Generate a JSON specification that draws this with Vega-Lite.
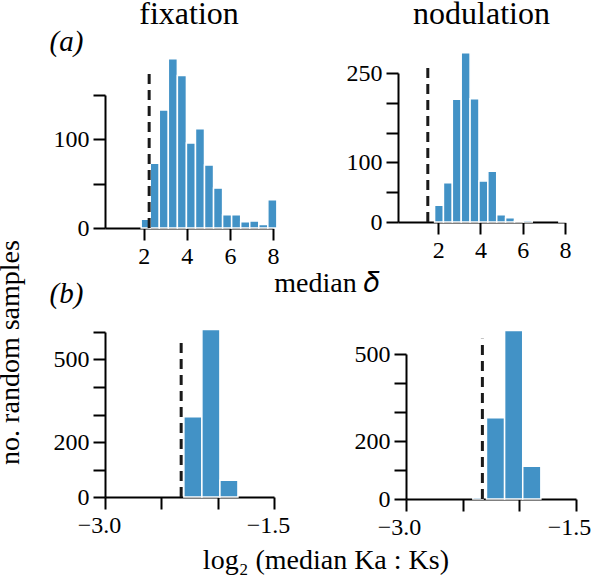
{
  "$schema": "https://vega.github.io/schema/vega-lite/v6.json",
  "background": "white",
  "padding": {"left": -3, "top": -3, "right": 0, "bottom": 2},
  "config": {
    "font": "Liberation Serif",
    "view": {"stroke": null},
    "axis": {
      "grid": false,
      "domainColor": "black",
      "domainWidth": 2,
      "tickColor": "black",
      "tickWidth": 2,
      "tickSize": 12,
      "labelFont": "Liberation Serif",
      "labelFontSize": 24,
      "labelColor": "black",
      "labelPadding": 4,
      "labelOverlap": false,
      "labelFlush": false,
      "titleFont": "Liberation Serif",
      "titleColor": "black",
      "titleFontWeight": "normal"
    },
    "title": {"font": "Liberation Serif", "fontWeight": "normal", "color": "black"},
    "bar": {"color": "#4292c6", "stroke": "white", "strokeWidth": 1.5},
    "rule": {"color": "#1a1a1a", "strokeWidth": 3, "strokeDash": [10, 6]}
  },
  "datasets": {
    "fixA": [
      {"x0": 1.88, "x1": 2.30, "n": 10},
      {"x0": 2.30, "x1": 2.72, "n": 73},
      {"x0": 2.72, "x1": 3.14, "n": 133},
      {"x0": 3.14, "x1": 3.56, "n": 191},
      {"x0": 3.56, "x1": 3.98, "n": 172},
      {"x0": 3.98, "x1": 4.40, "n": 96},
      {"x0": 4.40, "x1": 4.82, "n": 112},
      {"x0": 4.82, "x1": 5.24, "n": 71},
      {"x0": 5.24, "x1": 5.66, "n": 45},
      {"x0": 5.66, "x1": 6.08, "n": 15},
      {"x0": 6.08, "x1": 6.50, "n": 15},
      {"x0": 6.50, "x1": 6.92, "n": 7},
      {"x0": 6.92, "x1": 7.34, "n": 8},
      {"x0": 7.34, "x1": 7.76, "n": 4},
      {"x0": 7.76, "x1": 8.18, "n": 32}
    ],
    "nodA": [
      {"x0": 1.83, "x1": 2.25, "n": 28},
      {"x0": 2.25, "x1": 2.67, "n": 66},
      {"x0": 2.67, "x1": 3.09, "n": 206},
      {"x0": 3.09, "x1": 3.51, "n": 284},
      {"x0": 3.51, "x1": 3.93, "n": 207},
      {"x0": 3.93, "x1": 4.35, "n": 69},
      {"x0": 4.35, "x1": 4.77, "n": 85},
      {"x0": 4.77, "x1": 5.19, "n": 12},
      {"x0": 5.19, "x1": 5.61, "n": 7},
      {"x0": 5.61, "x1": 6.03, "n": 1.5},
      {"x0": 6.03, "x1": 6.45, "n": 3},
      {"x0": 7.71, "x1": 8.13, "n": 1.5}
    ],
    "fixB": [
      {"x0": -2.30, "x1": -2.14, "n": 292},
      {"x0": -2.14, "x1": -1.98, "n": 609},
      {"x0": -1.98, "x1": -1.82, "n": 61}
    ],
    "nodB": [
      {"x0": -2.41, "x1": -2.32, "n": 6},
      {"x0": -2.29, "x1": -2.13, "n": 280},
      {"x0": -2.13, "x1": -1.97, "n": 581},
      {"x0": -1.97, "x1": -1.81, "n": 113}
    ],
    "obsFixA": [{"x": 2.25, "y0": 0, "y1": 180}],
    "obsNodA": [{"x": 1.51, "y0": 0, "y1": 268}],
    "obsFixB": [{"x": -2.324, "y0": 0, "y1": 578}],
    "obsNodB": [{"x": -2.326, "y0": 0, "y1": 553}]
  },
  "title": {"text": "log₂ (median Ka : Ks)", "orient": "bottom", "anchor": "middle", "fontSize": 28, "offset": 8, "dx": 32},
  "spacing": -17,
  "align": "none",
  "hconcat": [
    {
      "title": {"text": "no. random samples", "orient": "left", "anchor": "middle", "fontSize": 28, "offset": 24, "dx": -85},
      "spacing": 11,
      "align": "none",
      "vconcat": [
        {
          "width": 168,
          "height": 155,
          "title": {"text": "fixation", "fontSize": 32, "offset": -4},
          "resolve": {"axis": {"y": "independent"}},
          "layer": [
            {
              "data": {"name": "fixA"},
              "mark": {"type": "bar"},
              "encoding": {
                "x": {"field": "x0", "type": "quantitative", "scale": {"domain": [0.2, 8], "nice": false, "zero": false},
                  "axis": {"values": [2, 4, 6, 8], "format": "d", "title": null}},
                "x2": {"field": "x1"},
                "y": {"field": "n", "type": "quantitative", "scale": {"domain": [0, 150], "nice": false, "range": [155, 22]},
                  "axis": {"values": [0, 100], "orient": "left",
                    "title": "(a)", "titleAngle": 0, "titleFontSize": 29, "titleFontStyle": "italic", "titleAlign": "center", "titleBaseline": "middle", "titleX": -39, "titleY": -32}},
                "y2": {"datum": 0}
              }
            },
            {
              "data": {"name": "obsFixA"},
              "mark": {"type": "rule"},
              "encoding": {
                "x": {"field": "x", "type": "quantitative"},
                "y": {"field": "y0", "type": "quantitative", "axis": {"values": [50, 150], "orient": "left", "labels": false, "domain": false, "title": null}},
                "y2": {"field": "y1"}
              }
            }
          ]
        },
        {
          "width": 169,
          "height": 165,
          "resolve": {"axis": {"y": "independent"}},
          "layer": [
            {
              "data": {"name": "fixB"},
              "mark": {"type": "bar"},
              "encoding": {
                "x": {"field": "x0", "type": "quantitative", "scale": {"domain": [-3, -1.5], "nice": false, "zero": false},
                  "axis": {"values": [-3, -2.5, -2, -1.5], "labelOffset": -6, "labelExpr": "datum.value == -3 || datum.value == -1.5 ? format(datum.value, '.1f') : ''", "title": null}},
                "x2": {"field": "x1"},
                "y": {"field": "n", "type": "quantitative", "scale": {"domain": [0, 600], "nice": false},
                  "axis": {"values": [0, 200, 500], "orient": "left",
                    "title": "(b)", "titleAngle": 0, "titleFontSize": 29, "titleFontStyle": "italic", "titleAlign": "center", "titleBaseline": "middle", "titleX": -39, "titleY": -39}},
                "y2": {"datum": 0}
              }
            },
            {
              "data": {"name": "obsFixB"},
              "mark": {"type": "rule"},
              "encoding": {
                "x": {"field": "x", "type": "quantitative"},
                "y": {"field": "y0", "type": "quantitative", "axis": {"values": [100, 300, 400, 600], "orient": "left", "labels": false, "domain": false, "title": null}},
                "y2": {"field": "y1"}
              }
            }
          ]
        }
      ]
    },
    {
      "spacing": 32,
      "align": "none",
      "vconcat": [
        {
          "width": 167,
          "height": 149,
          "title": {"text": "nodulation", "fontSize": 32, "offset": 21},
          "resolve": {"axis": {"y": "independent"}},
          "layer": [
            {
              "data": {"name": "nodA"},
              "mark": {"type": "bar"},
              "encoding": {
                "x": {"field": "x0", "type": "quantitative", "scale": {"domain": [0.1, 8], "nice": false, "zero": false},
                  "axis": {"values": [2, 4, 6, 8], "format": "d", "title": "median 𝛿", "titleFontSize": 28, "titleX": -72, "titleY": 69, "titleAlign": "center", "titleBaseline": "alphabetic"}},
                "x2": {"field": "x1"},
                "y": {"field": "n", "type": "quantitative", "scale": {"domain": [0, 250], "nice": false},
                  "axis": {"values": [0, 100, 250], "orient": "left", "title": null}},
                "y2": {"datum": 0}
              }
            },
            {
              "data": {"name": "obsNodA"},
              "mark": {"type": "rule"},
              "encoding": {
                "x": {"field": "x", "type": "quantitative"},
                "y": {"field": "y0", "type": "quantitative", "axis": {"values": [50, 150, 200], "orient": "left", "labels": false, "domain": false, "title": null}},
                "y2": {"field": "y1"}
              }
            }
          ]
        },
        {
          "width": 178,
          "height": 145,
          "resolve": {"axis": {"y": "independent"}},
          "layer": [
            {
              "data": {"name": "nodB"},
              "mark": {"type": "bar"},
              "encoding": {
                "x": {"field": "x0", "type": "quantitative", "scale": {"domain": [-3, -1.5], "nice": false, "zero": false, "range": [8, 178]},
                  "axis": {"values": [-3, -2.5, -2, -1.5], "labelOffset": -7, "labelExpr": "datum.value == -3 || datum.value == -1.5 ? format(datum.value, '.1f') : ''", "title": null}},
                "x2": {"field": "x1"},
                "y": {"field": "n", "type": "quantitative", "scale": {"domain": [0, 500], "nice": false},
                  "axis": {"values": [0, 200, 500], "orient": "left", "offset": -8, "title": null}},
                "y2": {"datum": 0}
              }
            },
            {
              "data": {"name": "obsNodB"},
              "mark": {"type": "rule"},
              "encoding": {
                "x": {"field": "x", "type": "quantitative"},
                "y": {"field": "y0", "type": "quantitative", "axis": {"values": [100, 300, 400], "orient": "left", "offset": -8, "labels": false, "domain": false, "title": null}},
                "y2": {"field": "y1"}
              }
            }
          ]
        }
      ]
    }
  ]
}
